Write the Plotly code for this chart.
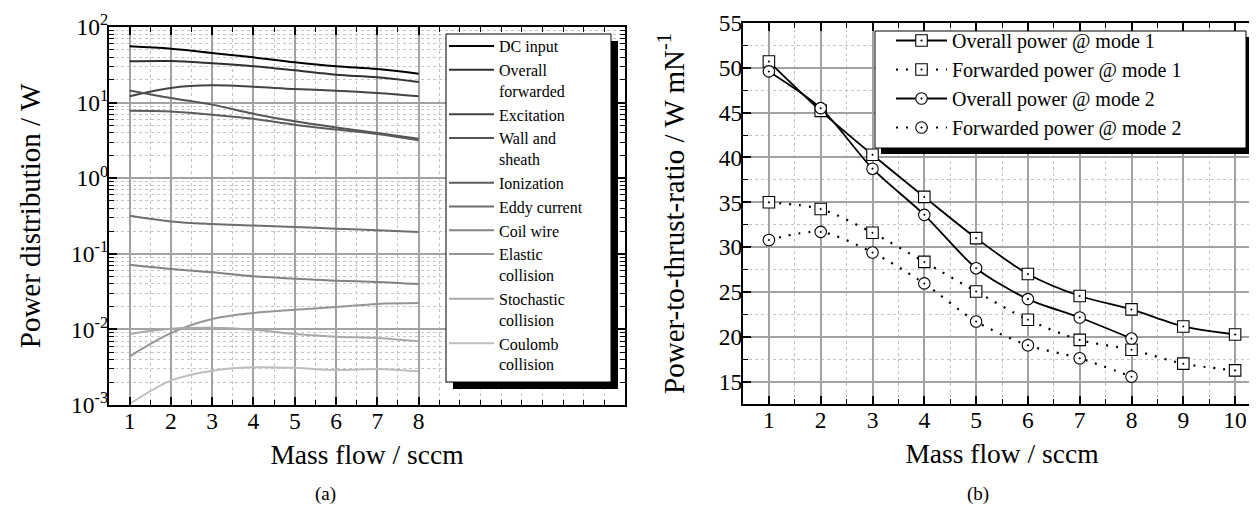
import plotly.graph_objects as go

W, H = 1257, 512
FONT = "Liberation Serif"

# ---------------- data: panel (a) ----------------
mass_flow_a = [1, 2, 3, 4, 5, 6, 7, 8]
dc_input = [55.5, 51.6, 45.3, 39.7, 34.1, 30.2, 27.8, 24.1]
overall_forwarded = [35.2, 35.5, 33.1, 30.2, 26.7, 23.4, 21.6, 18.7]
excitation = [12.1, 15.6, 16.9, 16.2, 15.1, 14.4, 13.4, 12.1]
wall_sheath = [14.5, 11.5, 9.4, 7.1, 5.65, 4.7, 3.96, 3.33]
ionization = [7.8, 7.6, 6.9, 6.1, 5.1, 4.4, 3.85, 3.17]
eddy_current = [0.319, 0.268, 0.248, 0.237, 0.226, 0.215, 0.205, 0.194]
coil_wire = [0.0718, 0.063, 0.0569, 0.0504, 0.0469, 0.0441, 0.0424, 0.0398]
elastic = [0.0044, 0.00895, 0.0137, 0.0165, 0.0182, 0.0198, 0.0217, 0.0223]
stochastic = [0.0087, 0.0102, 0.0105, 0.0099, 0.0087, 0.0080, 0.0077, 0.00695]
coulomb = [0.00103, 0.0021, 0.00284, 0.00315, 0.0031, 0.0029, 0.0030, 0.00279]

names_a = ["DC input", "Overall<br>forwarded", "Excitation", "Wall and<br>sheath",
           "Ionization", "Eddy current", "Coil wire", "Elastic<br>collision",
           "Stochastic<br>collision", "Coulomb<br>collision"]
series_a = [dc_input, overall_forwarded, excitation, wall_sheath, ionization,
            eddy_current, coil_wire, elastic, stochastic, coulomb]
colors_a = ["#000000", "#303030", "#444444", "#545454", "#5c5c5c",
            "#6e6e6e", "#828282", "#959595", "#a9a9a9", "#bebebe"]

ytick_vals_a = [1e-3, 1e-2, 1e-1, 1e0, 1e1, 1e2]
ytick_text_a = ["10<sup>-3</sup>", "10<sup>-2</sup>", "10<sup>-1</sup>",
                "10<sup>0</sup>", "10<sup>1</sup>", "10<sup>2</sup>"]
xtick_vals_a = [1, 2, 3, 4, 5, 6, 7, 8]

# ---------------- data: panel (b) ----------------
mass_flow_m1 = [1, 2, 3, 4, 5, 6, 7, 8, 9, 10]
overall_m1 = [50.7, 45.2, 40.3, 35.6, 31.0, 27.0, 24.55, 23.05, 21.15, 20.25]
forwarded_m1 = [35.0, 34.25, 31.6, 28.35, 25.05, 21.9, 19.65, 18.55, 17.0, 16.25]
mass_flow_m2 = [1, 2, 3, 4, 5, 6, 7, 8]
overall_m2 = [49.6, 45.5, 38.75, 33.6, 27.65, 24.2, 22.15, 19.8]
forwarded_m2 = [30.8, 31.7, 29.4, 25.95, 21.7, 19.05, 17.6, 15.55]

fig = go.Figure()

for name, ys, col in zip(names_a, series_a, colors_a):
    fig.add_trace(go.Scatter(
        x=mass_flow_a, y=ys, name=name, mode="lines",
        line=dict(color=col, width=2, shape="spline", smoothing=1.0),
        xaxis="x", yaxis="y", legend="legend"))

specs_b = [
    ("Overall power @ mode 1", mass_flow_m1, overall_m1, "solid", "square-dot"),
    ("Forwarded power @ mode 1", mass_flow_m1, forwarded_m1, "2px,8px", "square-dot"),
    ("Overall power @ mode 2", mass_flow_m2, overall_m2, "solid", "circle-dot"),
    ("Forwarded power @ mode 2", mass_flow_m2, forwarded_m2, "2px,8px", "circle-dot"),
]
for name, xs, ys, dash, sym in specs_b:
    fig.add_trace(go.Scatter(
        x=xs, y=ys, name=name, mode="lines+markers",
        line=dict(color="black", width=1.8 if dash == "solid" else 2.2,
                  dash=dash, shape="spline", smoothing=0.8),
        marker=dict(symbol=sym, size=11.5, color="white",
                    line=dict(color="black", width=1.1)),
        xaxis="x2", yaxis="y2", legend="legend2"))


def px(x):
    return x / W


def py(y):
    return 1 - y / H


tickfont = dict(family=FONT, size=23.5, color="black")
xtitlefont = dict(family=FONT, size=27.5, color="black")
ytitlefont = dict(family=FONT, size=29, color="black")
common = dict(showline=True, linecolor="black", linewidth=2, mirror="allticks",
              ticks="inside", ticklen=8, tickwidth=1.5, tickcolor="black",
              showgrid=True, gridcolor="#a2a2a2", gridwidth=1.6,
              zeroline=False, tickfont=tickfont, ticklabelstandoff=-6)
minor_grid = dict(ticks="inside", ticklen=5, tickwidth=1.2, tickcolor="black",
                  showgrid=True, gridcolor="#c4c4c4", gridwidth=1, griddash="dot")

minor_log_vals = [k * 10.0 ** e for e in range(-3, 2) for k in range(2, 10)]

fig.update_layout(
    width=W, height=H,
    margin=dict(l=0, r=0, t=0, b=0, autoexpand=False),
    paper_bgcolor="white", plot_bgcolor="white",
    font=dict(family=FONT, color="black"),
    xaxis=dict(domain=[px(101), px(617)], range=[0.5, 13], tickmode="array",
               tickvals=xtick_vals_a, anchor="y",
               minor=dict(dtick=0.5, tick0=0.5, **minor_grid),
               title=dict(text="Mass flow / sccm", font=xtitlefont, standoff=12),
               **common),
    yaxis=dict(domain=[py(397), py(19)], type="log", range=[-3, 2],
               tickmode="array", tickvals=ytick_vals_a, ticktext=ytick_text_a,
               anchor="x",
               minor=dict(tickvals=minor_log_vals, **minor_grid),
               title=dict(text="Power distribution / W", font=ytitlefont, standoff=22),
               **common),
    xaxis2=dict(domain=[px(735), px(1253)], range=[0.5, 10.5], dtick=1, tick0=1,
                anchor="y2",
                minor=dict(dtick=0.5, tick0=0.5, **minor_grid),
                title=dict(text="Mass flow / sccm", font=xtitlefont, standoff=12),
                **common),
    yaxis2=dict(domain=[py(396), py(15)], range=[12.5, 55], dtick=5, tick0=15,
                anchor="x2",
                minor=dict(dtick=2.5, tick0=12.5, **minor_grid),
                title=dict(text="Power-to-thrust-ratio / W mN<sup>-1</sup>",
                           font=ytitlefont, standoff=26),
                **common),
    legend=dict(x=px(436), y=py(21), xanchor="left", yanchor="top",
                bgcolor="rgba(0,0,0,0)", borderwidth=0, itemwidth=45,
                valign="top", tracegroupgap=0,
                font=dict(family=FONT, size=16, color="black")),
    legend2=dict(x=px(883), y=py(13), xanchor="left", yanchor="top",
                 bgcolor="rgba(0,0,0,0)", borderwidth=0, itemwidth=51,
                 font=dict(family=FONT, size=20, color="black")),
)

# legend boxes with drop shadows
def box(x0, y0, x1, y1, off):
    fig.add_shape(type="rect", xref="paper", yref="paper",
                  x0=px(x0 + off), x1=px(x1 + off), y0=py(y1 + off), y1=py(y0 + off),
                  fillcolor="black", line=dict(width=0), layer="above")
    fig.add_shape(type="rect", xref="paper", yref="paper",
                  x0=px(x0), x1=px(x1), y0=py(y1), y1=py(y0),
                  fillcolor="white", line=dict(color="black", width=1), layer="above")

box(438, 26, 603, 374, 7)
box(867, 23, 1238, 140, 6)

fig.add_annotation(text="(a)", x=px(305), y=py(499), xref="paper", yref="paper",
                   showarrow=False, font=dict(family=FONT, size=19, color="black"))
fig.add_annotation(text="(b)", x=px(983), y=py(499), xref="paper", yref="paper",
                   showarrow=False, font=dict(family=FONT, size=19, color="black"))

fig.write_html("out.html")
